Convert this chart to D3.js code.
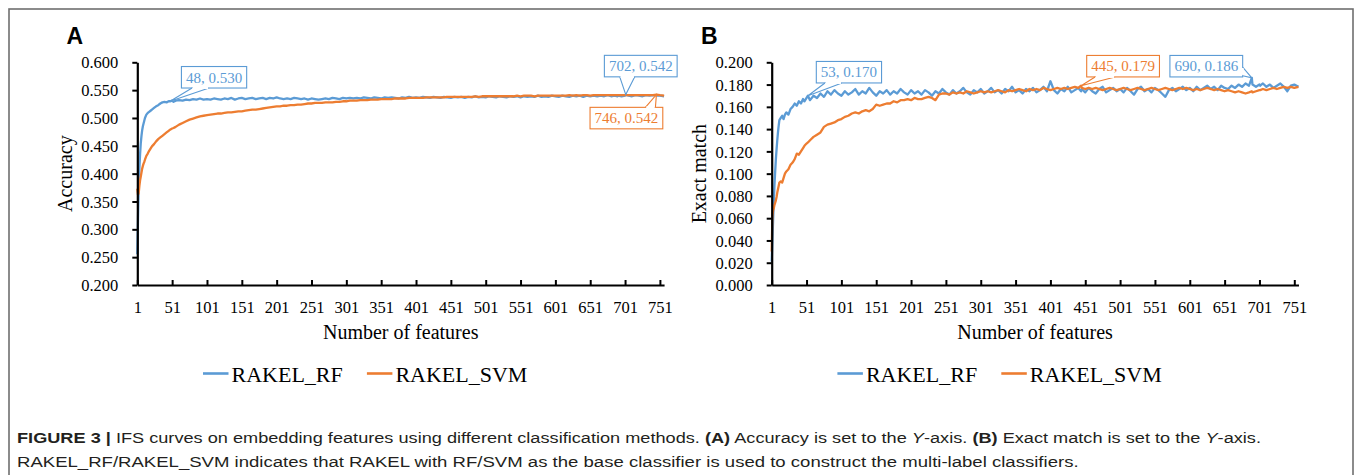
<!DOCTYPE html>
<html><head><meta charset="utf-8">
<script src="https://cdn.jsdelivr.net/npm/d3@7"></script>
<style>body{margin:0;background:#fff}</style>
</head><body>
<svg id="c" width="1355" height="475"></svg>
<script>
// ---------------- DATA ----------------
const features = [
  1,2,3,4,5,6,7,8,9,10,
  11,12,14,16,18,20,22,25,28,31,
  34,37,40,43,46,48,51,53,56,61,
  66,71,76,81,86,91,96,101,106,111,
  116,121,126,131,136,141,146,151,156,161,
  166,171,176,181,186,191,196,201,206,211,
  216,221,226,231,236,241,246,251,256,261,
  266,271,276,281,286,291,296,301,306,311,
  316,321,326,331,336,341,346,351,356,361,
  366,371,376,381,386,391,396,401,406,411,
  416,421,426,431,436,441,445,446,451,456,
  461,466,471,476,481,486,491,496,501,506,
  511,516,521,526,531,536,541,546,551,556,
  561,566,571,576,581,586,591,596,601,606,
  611,616,621,626,631,636,641,646,651,656,
  661,666,671,676,681,686,690,691,696,701,
  702,706,711,716,721,726,731,736,741,746,
  751,757
];
// Panel A: Accuracy
const accuracyRF = [
  0.255,0.320,0.375,0.410,0.435,0.455,0.468,0.478,0.485,0.490,
  0.495,0.500,0.506,0.509,0.511,0.513,0.515,0.518,0.521,0.523,
  0.526,0.528,0.529,0.528,0.530,0.530,0.531,0.529,0.531,0.532,
  0.531,0.533,0.532,0.534,0.533,0.535,0.533,0.534,0.533,0.535,
  0.534,0.533,0.535,0.534,0.536,0.533,0.535,0.536,0.534,0.535,
  0.536,0.534,0.535,0.536,0.534,0.536,0.535,0.537,0.535,0.534,
  0.535,0.534,0.536,0.535,0.534,0.535,0.533,0.535,0.534,0.533,
  0.534,0.535,0.534,0.536,0.535,0.534,0.536,0.535,0.536,0.535,
  0.536,0.535,0.537,0.536,0.535,0.537,0.536,0.535,0.537,0.536,
  0.537,0.536,0.535,0.537,0.536,0.538,0.536,0.537,0.536,0.538,
  0.537,0.536,0.538,0.537,0.536,0.538,0.537,0.537,0.536,0.538,
  0.537,0.538,0.536,0.538,0.537,0.539,0.537,0.538,0.537,0.539,
  0.538,0.537,0.539,0.538,0.537,0.539,0.538,0.539,0.537,0.539,
  0.538,0.539,0.538,0.540,0.538,0.539,0.538,0.540,0.539,0.538,
  0.540,0.539,0.538,0.540,0.539,0.540,0.538,0.540,0.539,0.540,
  0.539,0.540,0.539,0.541,0.539,0.540,0.539,0.540,0.539,0.540,
  0.542,0.540,0.539,0.541,0.540,0.539,0.541,0.540,0.541,0.540,
  0.540,0.539
];
const accuracySVM = [
  0.373,0.362,0.365,0.378,0.388,0.395,0.402,0.409,0.414,0.418,
  0.421,0.425,0.432,0.436,0.441,0.445,0.449,0.453,0.458,0.462,
  0.465,0.468,0.471,0.474,0.477,0.479,0.481,0.482,0.484,0.488,
  0.491,0.494,0.497,0.499,0.501,0.503,0.504,0.505,0.506,0.507,
  0.508,0.508,0.509,0.510,0.510,0.511,0.512,0.512,0.513,0.514,
  0.515,0.515,0.516,0.517,0.518,0.519,0.520,0.521,0.521,0.522,
  0.522,0.523,0.523,0.524,0.524,0.525,0.526,0.526,0.527,0.527,
  0.527,0.528,0.528,0.528,0.529,0.529,0.530,0.530,0.531,0.531,
  0.531,0.532,0.532,0.532,0.533,0.533,0.533,0.534,0.534,0.534,
  0.534,0.535,0.535,0.535,0.535,0.536,0.536,0.536,0.536,0.536,
  0.537,0.537,0.537,0.537,0.537,0.537,0.538,0.538,0.538,0.538,
  0.538,0.538,0.538,0.538,0.538,0.539,0.538,0.539,0.539,0.539,
  0.539,0.539,0.539,0.539,0.539,0.539,0.539,0.540,0.539,0.540,
  0.540,0.540,0.539,0.540,0.540,0.540,0.540,0.540,0.540,0.540,
  0.540,0.540,0.541,0.540,0.541,0.540,0.541,0.541,0.540,0.541,
  0.541,0.541,0.541,0.541,0.541,0.541,0.541,0.541,0.541,0.541,
  0.541,0.541,0.541,0.541,0.541,0.541,0.541,0.541,0.541,0.542,
  0.541,0.540
];
// Panel B: Exact match
const exactRF = [
  0.021,0.040,0.058,0.075,0.090,0.102,0.113,0.122,0.130,0.137,
  0.143,0.148,0.150,0.152,0.149,0.153,0.155,0.153,0.158,0.160,
  0.163,0.161,0.165,0.163,0.167,0.165,0.168,0.170,0.166,0.170,
  0.168,0.172,0.169,0.174,0.171,0.175,0.172,0.170,0.174,0.171,
  0.173,0.176,0.171,0.174,0.172,0.177,0.173,0.170,0.174,0.172,
  0.175,0.171,0.174,0.172,0.176,0.173,0.171,0.175,0.172,0.174,
  0.171,0.175,0.173,0.170,0.174,0.172,0.176,0.173,0.171,0.175,
  0.172,0.174,0.177,0.173,0.171,0.175,0.173,0.176,0.172,0.174,
  0.177,0.173,0.175,0.172,0.176,0.174,0.178,0.173,0.175,0.172,
  0.176,0.174,0.177,0.173,0.175,0.178,0.174,0.183,0.175,0.172,
  0.176,0.174,0.178,0.173,0.175,0.177,0.174,0.176,0.173,0.177,
  0.174,0.172,0.176,0.178,0.173,0.175,0.177,0.174,0.176,0.173,
  0.177,0.174,0.171,0.176,0.178,0.174,0.176,0.173,0.177,0.175,
  0.172,0.169,0.175,0.177,0.174,0.176,0.178,0.175,0.177,0.174,
  0.178,0.175,0.177,0.179,0.176,0.178,0.175,0.179,0.177,0.176,
  0.179,0.177,0.180,0.178,0.181,0.179,0.186,0.180,0.178,0.180,
  0.179,0.181,0.178,0.180,0.177,0.179,0.181,0.178,0.174,0.179,
  0.180,0.178
];
const exactSVM = [
  0.030,0.062,0.067,0.069,0.072,0.074,0.076,0.079,0.083,0.086,
  0.089,0.092,0.093,0.092,0.096,0.100,0.102,0.104,0.108,0.110,
  0.113,0.118,0.117,0.120,0.123,0.125,0.127,0.128,0.130,0.133,
  0.135,0.137,0.142,0.144,0.145,0.146,0.148,0.149,0.151,0.152,
  0.154,0.155,0.154,0.156,0.157,0.156,0.158,0.162,0.161,0.162,
  0.163,0.163,0.165,0.164,0.166,0.166,0.167,0.166,0.168,0.167,
  0.167,0.168,0.169,0.168,0.166,0.171,0.172,0.172,0.171,0.173,
  0.172,0.173,0.172,0.174,0.173,0.172,0.173,0.174,0.173,0.174,
  0.173,0.174,0.175,0.174,0.173,0.175,0.174,0.175,0.176,0.175,
  0.174,0.176,0.175,0.176,0.175,0.177,0.176,0.175,0.176,0.177,
  0.176,0.177,0.176,0.177,0.178,0.177,0.179,0.177,0.176,0.177,
  0.176,0.177,0.176,0.175,0.176,0.177,0.176,0.175,0.176,0.177,
  0.176,0.175,0.176,0.177,0.176,0.175,0.176,0.177,0.176,0.175,
  0.176,0.177,0.176,0.175,0.176,0.177,0.176,0.177,0.176,0.175,
  0.176,0.175,0.176,0.177,0.176,0.175,0.176,0.175,0.174,0.175,
  0.174,0.173,0.174,0.173,0.172,0.173,0.174,0.173,0.174,0.175,
  0.175,0.176,0.175,0.176,0.177,0.176,0.177,0.178,0.177,0.178,
  0.177,0.178
];
const seriesNames = ["RAKEL_RF", "RAKEL_SVM"];
const xTickValues = [1,51,101,151,201,251,301,351,401,451,501,551,601,651,701,751];
const yTicksA = [0.200,0.250,0.300,0.350,0.400,0.450,0.500,0.550,0.600];
const yTicksB = [0.000,0.020,0.040,0.060,0.080,0.100,0.120,0.140,0.160,0.180,0.200];
// callouts (data labels)
const calloutFeaturesA = [48, 702, 746];
const calloutValuesA   = [0.530, 0.542, 0.542];
const calloutSeriesA   = [0, 0, 1];
const calloutFeaturesB = [53, 445, 690];
const calloutValuesB   = [0.170, 0.179, 0.186];
const calloutSeriesB   = [0, 1, 0];

// ---------------- LAYOUT / STYLE ----------------
const colors = ["#5B9BD5", "#ED7D31"];
const serif = "'Liberation Serif','Times New Roman',serif";
const sans = "'Liberation Sans',Arial,sans-serif";
// box centre offset from tip (dx,dy), wedge side and base offsets along side
const calloutLayoutA = [
  {dx: 44, dy: -24, side: "bottom", b0: -22, b1: -5},
  {dx: 15, dy: -28.5, side: "bottom", b0: -21, b1: -6},
  {dx: -30, dy: 23.5, side: "top", b0: 19, b1: 29}
];
const calloutLayoutB = [
  {dx: 41, dy: -23.5, side: "bottom", b0: -24, b1: -7},
  {dx: 42, dy: -19.5, side: "bottom", b0: -28, b1: -8},
  {dx: -45.5, dy: -11.7, side: "right", b0: 1, b1: 9.5}
];

const panels = [
  {label: "A", x0: 137.3, yTitle: "Accuracy", yDomain: [0.2, 0.6], yTicks: yTicksA,
   series: [accuracyRF, accuracySVM], cf: calloutFeaturesA, cv: calloutValuesA, cs: calloutSeriesA, cl: calloutLayoutA},
  {label: "B", x0: 771.7, yTitle: "Exact match", yDomain: [0, 0.2], yTicks: yTicksB,
   series: [exactRF, exactSVM], cf: calloutFeaturesB, cv: calloutValuesB, cs: calloutSeriesB, cl: calloutLayoutB}
];
const pxPerFeature = 0.6968;
const yBottom = 285, yTop = 62.3;

const svg = d3.select("#c");
svg.append("rect").attr("width", 1355).attr("height", 475).attr("fill", "#fff");
svg.append("rect").attr("x", 9).attr("y", 9).attr("width", 1344).attr("height", 500)
  .attr("fill", "none").attr("stroke", "#6f6f6f").attr("stroke-width", 1.6);

panels.forEach(p => {
  const x = d3.scaleLinear().domain([1, 757]).range([p.x0, p.x0 + 756 * pxPerFeature]);
  const y = d3.scaleLinear().domain(p.yDomain).range([yBottom, yTop]);
  const g = svg.append("g");

  // lines
  const line = d3.line().x((d, i) => x(features[i])).y(d => y(d));
  p.series.forEach((s, k) => {
    g.append("path").datum(s).attr("d", line).attr("fill", "none")
      .attr("stroke", colors[k]).attr("stroke-width", 2.3).attr("stroke-linejoin", "round");
  });
  // redraw RF over? In reference SVM lies on top in A, RF on top in B partially - keep order

  // axes
  const xAxis = d3.axisBottom(x).tickValues(xTickValues).tickFormat(d3.format("d"))
    .tickSizeInner(-5).tickSizeOuter(0).tickPadding(16);
  const gx = g.append("g").attr("transform", `translate(0,${yBottom})`).call(xAxis);
  const yAxis = d3.axisLeft(y).tickValues(p.yTicks).tickFormat(d3.format(".3f"))
    .tickSizeInner(5).tickSizeOuter(0).tickPadding(14);
  const gy = g.append("g").attr("transform", `translate(${p.x0},0)`).call(yAxis);
  [gx, gy].forEach(a => {
    a.attr("font-family", serif).attr("font-size", 16.5);
    a.select(".domain").attr("stroke", "#000").attr("stroke-width", 2.2);
    a.selectAll(".tick line").attr("stroke", "#000").attr("stroke-width", 2);
    a.selectAll(".tick text").attr("fill", "#000");
  });
  gy.selectAll(".tick text").attr("dy", "0.34em");

  // titles
  g.append("text").attr("x", (x.range()[0] + x.range()[1]) / 2).attr("y", 338.5)
    .attr("text-anchor", "middle").attr("font-family", serif).attr("font-size", 20)
    .attr("fill", "#000").text("Number of features");
  g.append("text").attr("transform", `translate(${p.x0 - 65.3},${(yBottom + yTop) / 2}) rotate(-90)`)
    .attr("text-anchor", "middle").attr("font-family", serif).attr("font-size", 20)
    .attr("fill", "#000").text(p.yTitle);
  g.append("text").attr("x", p.x0 - 70.8).attr("y", 44).attr("font-family", sans)
    .attr("font-weight", "bold").attr("font-size", 23).attr("fill", "#000").text(p.label);

  // legend
  const legOff = [65.7, 229.6];
  seriesNames.forEach((n, k) => {
    const lx = p.x0 + legOff[k];
    g.append("line").attr("x1", lx).attr("x2", lx + 25.5).attr("y1", 373.5).attr("y2", 373.5)
      .attr("stroke", colors[k]).attr("stroke-width", 2.6);
    g.append("text").attr("x", lx + 28.5).attr("y", 381.5).attr("font-family", serif)
      .attr("font-size", 22).attr("fill", "#000").text(n);
  });

  // callouts
  p.cf.forEach((f, i) => {
    const v = p.cv[i], lay = p.cl[i], col = colors[p.cs[i]];
    const tx = x(f), ty = y(v);
    const cx = tx + lay.dx, cy = ty + lay.dy;
    const cg = g.append("g");
    const t = cg.append("text").attr("x", cx).attr("y", cy).attr("text-anchor", "middle")
      .attr("dy", "0.35em").attr("font-family", serif).attr("font-size", 15)
      .attr("fill", col).text(`${f}, ${v.toFixed(3)}`);
    const w = t.node().getComputedTextLength() + 9, h = 21.5;
    const bx = cx - w / 2, by = cy - h / 2;
    let p0, p1;
    if (lay.side === "bottom") { p0 = [cx + lay.b0, by + h]; p1 = [cx + lay.b1, by + h]; }
    else if (lay.side === "top") { p0 = [cx + lay.b0, by]; p1 = [cx + lay.b1, by]; }
    else if (lay.side === "right") { p0 = [bx + w, cy + lay.b0]; p1 = [bx + w, cy + lay.b1]; }
    else { p0 = [bx, cy + lay.b0]; p1 = [bx, cy + lay.b1]; }
    cg.insert("rect", "text").attr("x", bx).attr("y", by).attr("width", w).attr("height", h)
      .attr("fill", "#fff").attr("stroke", col).attr("stroke-width", 1.1);
    cg.insert("path", "text").attr("d", `M${p0[0]},${p0[1]}L${tx},${ty}L${p1[0]},${p1[1]}`)
      .attr("fill", "#fff").attr("stroke", col).attr("stroke-width", 1.1);
    const sh = (a, b) => { const dx = b[0]-a[0], dy = b[1]-a[1], L = Math.hypot(dx, dy); return [a[0]+dx/L*0.8, a[1]+dy/L*0.8]; };
    const q0 = sh(p0, p1), q1 = sh(p1, p0);
    cg.insert("line", "text").attr("x1", q0[0]).attr("y1", q0[1]).attr("x2", q1[0]).attr("y2", q1[1])
      .attr("stroke", "#fff").attr("stroke-width", 2);
  });
});

// caption
const capFont = "'Liberation Sans Narrow','Arial Narrow','Liberation Sans',Arial,sans-serif";
const cap1 = [
  ["FIGURE 3 |", "bold", "normal"], [" IFS curves on embedding features using different classification methods. ", "normal", "normal"],
  ["(A)", "bold", "normal"], [" Accuracy is set to the ", "normal", "normal"], ["Y", "normal", "italic"],
  ["-axis. ", "normal", "normal"], ["(B)", "bold", "normal"], [" Exact match is set to the ", "normal", "normal"],
  ["Y", "normal", "italic"], ["-axis.", "normal", "normal"]
];
const cap2 = [["RAKEL_RF/RAKEL_SVM indicates that RAKEL with RF/SVM as the base classifier is used to construct the multi-label classifiers.", "normal", "normal"]];
function caption(parts, yb, target) {
  const t = svg.append("text").attr("x", 0).attr("y", 0).attr("font-family", capFont)
    .attr("font-size", 15.5).attr("fill", "#231f20").style("white-space", "pre").attr("xml:space", "preserve");
  parts.forEach(pt => t.append("tspan").attr("font-weight", pt[1]).attr("font-style", pt[2]).text(pt[0]));
  const wdt = t.node().getComputedTextLength();
  t.attr("transform", `translate(17,${yb}) scale(${target / wdt},1)`);
}
caption(cap1, 442.5, 1245);
caption(cap2, 466.5, 1062);
</script>
</body></html>
